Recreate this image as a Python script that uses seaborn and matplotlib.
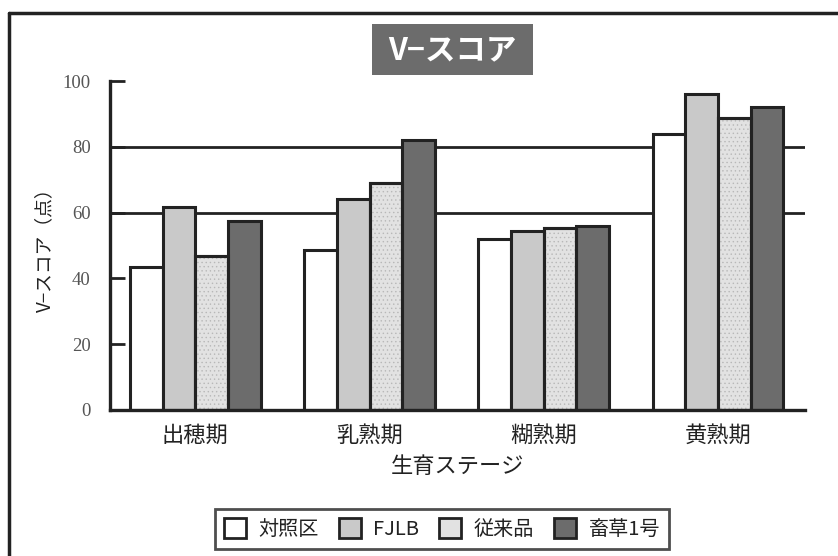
import matplotlib
matplotlib.use("Agg")
import matplotlib.pyplot as plt
import matplotlib.patches as mpatches
from matplotlib.lines import Line2D
import seaborn as sns
import pandas as pd

sns.set_theme(style="white")
plt.rcParams["font.family"] = ["Noto Sans CJK JP", "DejaVu Sans"]
plt.rcParams["hatch.linewidth"] = 0.5

stages = ["出穂期", "乳熟期", "糊熟期", "黄熟期"]
treatments = ["対照区", "FJLB", "従来品", "畜草1号"]
v_control = [43.5, 48.5, 52.0, 84.0]
v_fjlb = [61.7, 64.0, 54.5, 96.2]
v_conventional = [46.8, 69.0, 55.3, 88.8]
v_chikuso = [57.5, 82.0, 56.0, 92.0]
y_ticks = [0, 20, 40, 60, 80, 100]

fills = ["#ffffff", "#c9c9c9", "#e2e2e2", "#6c6c6c"]
edge = "#222222"
dot_color = "#b8b8b8"

df = pd.DataFrame({
    "stage": stages * 4,
    "treatment": [t for t in treatments for _ in stages],
    "score": v_control + v_fjlb + v_conventional + v_chikuso,
})

fig = plt.figure(figsize=(8.38, 5.56), dpi=100)
ax = fig.add_axes([110 / 838, 1 - 410 / 556, 695 / 838, 329 / 556])

# reference lines behind the bars
for yv in (60, 80):
    ax.axhline(yv, color=edge, lw=2, zorder=0)

sns.barplot(data=df, x="stage", y="score", hue="treatment", order=stages,
            hue_order=treatments, palette=fills, width=0.75, gap=0,
            edgecolor=edge, linewidth=2.2, saturation=1, ax=ax, legend=False)

bars = list(ax.patches)
for bar in bars:
    bar.set_zorder(2)

# fine dotted texture for the conventional product, with the outline redrawn on top
for bar in bars[8:12]:
    x, y = bar.get_xy()
    w, h = bar.get_width(), bar.get_height()
    ax.add_patch(mpatches.Rectangle((x, y), w, h, facecolor="none",
                                    edgecolor=dot_color, hatch="....",
                                    linewidth=0, zorder=2.1))
    ax.add_patch(mpatches.Rectangle((x, y), w, h, facecolor="none",
                                    edgecolor=edge, linewidth=2.2, zorder=2.2))

ax.set_ylim(0, 100)
ax.set_xlim(-0.49, 3.5)
ax.set_yticks(y_ticks)
ax.set_yticklabels([str(v) for v in y_ticks], family=["Liberation Serif"],
                   fontsize=13.5, color="#555555")
ax.tick_params(axis="y", direction="in", length=11, width=2, color=edge,
               pad=14, left=True)
ax.tick_params(axis="x", length=0, pad=10, labelsize=16, colors="#222222")
ax.set_xlabel("生育ステージ", fontsize=16, color="#222222", labelpad=6)
ax.set_ylabel("V−スコア（点）", fontsize=13.5, color="#222222", labelpad=5)

for side in ("top", "right"):
    ax.spines[side].set_visible(False)
for side in ("left", "bottom"):
    ax.spines[side].set_color(edge)
    ax.spines[side].set_linewidth(2.4)
    ax.spines[side].set_zorder(3)

# figure frame lines (top and left)
fig.add_artist(Line2D([9 / 838, 1], [1 - 13 / 556, 1 - 13 / 556],
                      color=edge, lw=2.5, transform=fig.transFigure))
fig.add_artist(Line2D([9 / 838, 9 / 838], [0, 1 - 13 / 556],
                      color=edge, lw=2.5, transform=fig.transFigure))

# title banner
fig.add_artist(mpatches.Rectangle((372 / 838, 1 - 75 / 556), 161 / 838, 51 / 556,
                                  transform=fig.transFigure,
                                  facecolor="#6c6c6c", edgecolor="none"))
fig.text(452 / 838, 1 - 50 / 556, "V−スコア", color="white", fontsize=22,
         fontweight="bold", ha="center", va="center")

handles = []
for lab, fc in zip(treatments, fills):
    h = mpatches.Patch(facecolor=fc, edgecolor=edge, linewidth=2, label=lab)
    handles.append(h)
leg = fig.legend(handles=handles, loc="center", ncol=4,
                 bbox_to_anchor=(442 / 838, 1 - 529 / 556), fontsize=14.5,
                 frameon=True, fancybox=False, edgecolor=edge,
                 handlelength=1.1, handleheight=1.1, handletextpad=0.6,
                 columnspacing=1.0, borderpad=0.45, borderaxespad=0)
leg.get_frame().set_linewidth(2)
for t in leg.get_texts():
    t.set_color("#222222")

fig.savefig("out.png", dpi=100)
